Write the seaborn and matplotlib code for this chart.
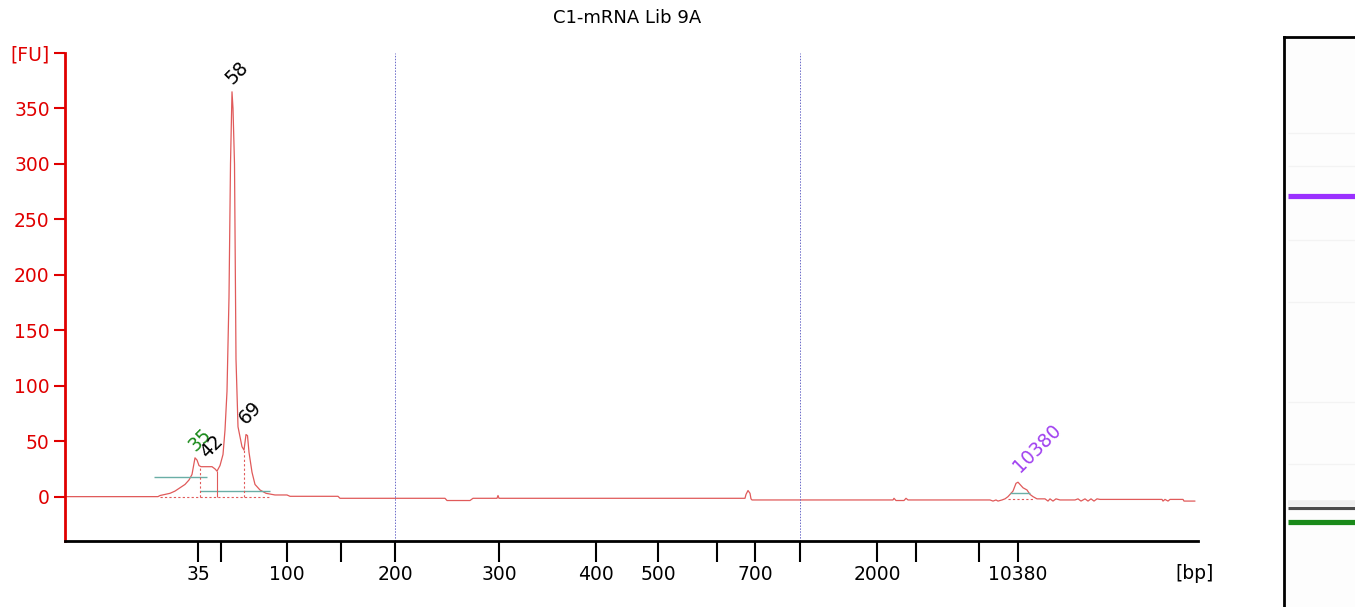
"""Bioanalyzer-style electropherogram for C1-mRNA Lib 9A."""
import matplotlib.pyplot as plt
import numpy as np
import pandas as pd
import seaborn as sns

# migration position (arbitrary units, 0 = left edge of plot) and fluorescence
trace_pos = [0, 93, 95, 100, 105, 110, 115, 120, 124, 127, 129, 130, 132, 134, 136,
             147, 150, 152, 155, 158, 160, 162, 164, 165.5, 167, 168, 169.5, 171, 173,
             177, 179, 181, 182.5, 184, 187, 190, 195, 201, 207, 210, 222, 225, 273,
             275, 380, 382, 405, 408, 432, 433, 434, 680, 681, 683, 685, 686, 687,
             828, 829, 831, 839, 841, 843, 925, 928, 931, 933, 937, 940, 943, 948,
             951, 953, 955, 958, 962, 965, 968, 972, 980, 983, 985, 988, 991, 995,
             1010, 1013, 1016, 1020, 1023, 1026, 1029, 1032, 1035, 1097, 1098, 1100,
             1103, 1105, 1118, 1119, 1130]
trace_fu = [0, 0, 1, 2, 3, 5, 8, 11, 15, 20, 30, 35, 33, 28, 27,
            27, 25, 23, 28, 38, 60, 95, 180, 300, 365, 350, 300, 124, 63,
            45, 42, 56, 55, 40, 22, 11, 6, 3, 2, 1.5, 1.5, 0.3, 0.3,
            -1.5, -1.5, -3.5, -3.5, -1.5, -1.5, 1, -1.5, -1.5, 2, 5.5, 3, -2, -3,
            -3, -1.5, -3.5, -3.5, -1.5, -3, -3, -4, -3, -4, -3, -2, 0, 5,
            12, 13, 11, 8, 6, 2, 0, -2, -2, -4, -2, -4, -2, -3,
            -3, -2, -4, -2, -4, -2, -4, -2, -2.5, -2.5, -4, -2.5,
            -4, -2.5, -2.5, -4, -4]

tick_pos = [133, 156, 222, 276, 330, 434, 531, 593, 652, 690, 735, 812, 851, 914, 953]
tick_labels = ["35", "", "100", "", "200", "300", "400", "500", "", "700", "", "2000",
               "", "", "10380"]
marker_lines = [330, 735]

fu_ticks = [0, 50, 100, 150, 200, 250, 300, 350, 400]
fu_labels = ["0", "50", "100", "150", "200", "250", "300", "350", "[FU]"]

peak_text = ["58", "69", "35", "42", "10380"]
peak_x = [172, 185, 135, 147, 972]
peak_y = [382, 76, 51, 45, 44]
peak_color = ["black", "black", "#1a8a1a", "black", "#a040f0"]

# gel lane: band rows (pixel rows from top of lane), colours and thickness
band_rows = [159, 471, 485]
band_colors = ["#9b30ff", "#4a4a4a", "#1a8a1a"]
band_widths = [5, 3, 5]
faint_rows = [96, 129, 203, 265, 365, 427]

RED = "#e00000"
TRACE = "#e05a5a"
TEAL = "#6aaea6"

sns.set_style("white")
plt.rcParams["font.family"] = ["DejaVu Sans"]
plt.rcParams["text.color"] = "black"
plt.rcParams["xtick.color"] = "black"

fig = plt.figure(figsize=(13.55, 6.07), dpi=100)
ax = fig.add_axes([65 / 1355, 66 / 607, 1133 / 1355, 488 / 607])

df = pd.DataFrame({"pos": trace_pos, "fu": trace_fu})
sns.lineplot(data=df, x="pos", y="fu", ax=ax, color=TRACE, linewidth=0.9,
             sort=False, estimator=None)

# peak integration baselines / boundaries
ax.hlines(18, 89, 142, color=TEAL, lw=1.0)
ax.hlines(5.5, 135, 205, color=TEAL, lw=1.0)
ax.hlines(3, 945, 965, color=TEAL, lw=1.0)
ax.hlines(0, 95, 205, color=TRACE, lw=0.8, linestyles=(0, (2, 2)))
ax.hlines(-2, 943, 968, color=TRACE, lw=0.8, linestyles=(0, (2, 2)))
ax.vlines(135, 0, 27, color=TRACE, lw=0.8, linestyles=(0, (2, 2)))
ax.vlines(152, 0, 23, color=TRACE, lw=0.8)
ax.vlines(179, 0, 42, color=TRACE, lw=0.8, linestyles=(0, (2, 2)))

for m in marker_lines:
    ax.axvline(m, color="#6a6ac8", lw=0.7, ls=(0, (1.5, 1.5)))

for t, x, y, c in zip(peak_text, peak_x, peak_y, peak_color):
    ax.text(x, y, t, color=c, rotation=45, ha="center", va="center", fontsize=13.5)

ax.set_xlim(0, 1133)
ax.set_ylim(-40, 400)
ax.set_xticks(tick_pos)
ax.set_xticklabels(tick_labels)
ax.set_yticks(fu_ticks)
ax.set_yticklabels(fu_labels)
ax.set_xlabel("")
ax.set_ylabel("")
ax.tick_params(axis="x", length=15, width=1.5, color="black", direction="out",
               labelsize=13.5, labelcolor="black", pad=2, bottom=True)
ax.tick_params(axis="y", length=8, width=1.5, color=RED, direction="out",
               labelsize=13.5, labelcolor=RED, pad=3, left=True)
for s in ["top", "right"]:
    ax.spines[s].set_visible(False)
ax.spines["left"].set_color(RED)
ax.spines["left"].set_linewidth(2)
ax.spines["bottom"].set_color("black")
ax.spines["bottom"].set_linewidth(2)
ax.text(1130, -0.048, "[bp]", transform=ax.get_xaxis_transform(), ha="center",
        va="top", fontsize=13.5)

fig.text(627 / 1355, 1 - 18 / 607, "C1-mRNA Lib 9A", ha="center", va="center",
         fontsize=13)

# gel lane
gax = fig.add_axes([1284 / 1355, 0, 80 / 1355, 570 / 607])
gax.set_xlim(0, 80)
gax.set_ylim(570, 0)
gax.set_facecolor("#fdfdfd")
for r in faint_rows:
    gax.hlines(r, 4, 71, color="#f3f3f3", lw=1.0)
gax.hlines(466, 4, 71, color="#e4e4e4", lw=4, alpha=0.6)
for r, c, w in zip(band_rows, band_colors, band_widths):
    gax.hlines(r, 4, 71, color=c, lw=w * 0.75)
gax.set_xticks([])
gax.set_yticks([])
for s in ["right", "bottom"]:
    gax.spines[s].set_visible(False)
for s in ["left", "top"]:
    gax.spines[s].set_visible(True)
    gax.spines[s].set_color("black")
    gax.spines[s].set_linewidth(2)

fig.savefig("out.png", dpi=100)
